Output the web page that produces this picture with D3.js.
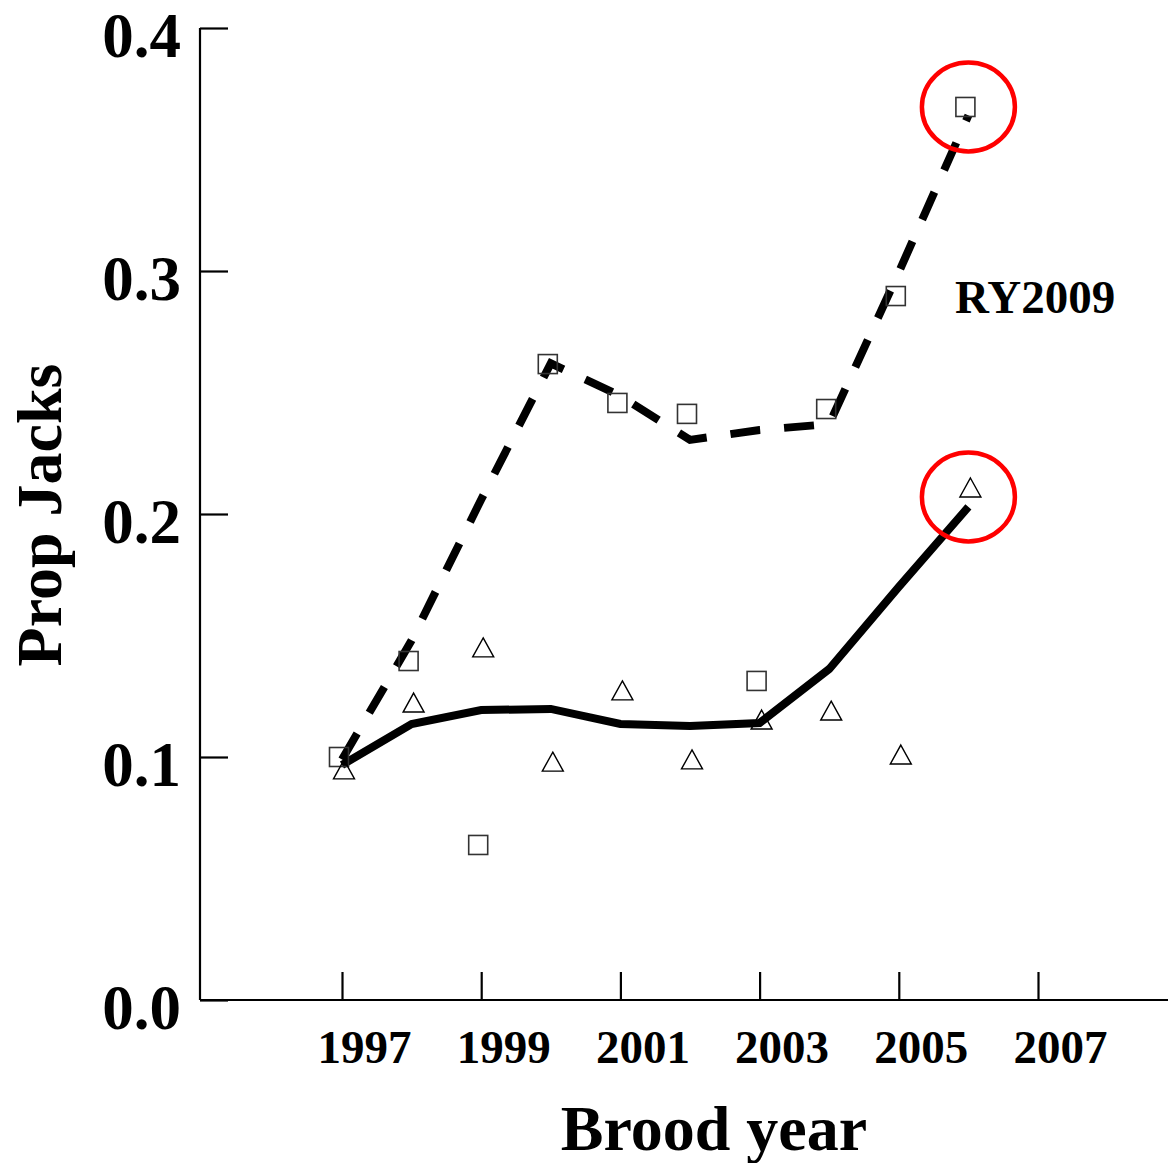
<!DOCTYPE html>
<html>
<head>
<meta charset="utf-8">
<script src="https://cdn.jsdelivr.net/npm/d3@7"></script>
<style>
  html, body { margin: 0; padding: 0; background: #fff; }
  svg { display: block; }
  text { font-family: "Liberation Serif", "Times New Roman", serif; font-weight: bold; fill: #000; }
</style>
</head>
<body>
<svg id="chart" width="1168" height="1163"></svg>
<script>
// Brood years and observed proportions of jacks
const years = [1997, 1998, 1999, 2000, 2001, 2002, 2003, 2004, 2005, 2006];
const squareObs = [0.100, 0.1395, 0.0638, 0.2617, 0.2457, 0.2412, 0.1313, 0.2432, 0.2897, 0.3675];
const triangleObs = [0.0947, 0.1222, 0.1449, 0.0979, 0.1272, 0.0988, 0.1152, 0.1189, 0.1008, 0.2107];
// Fitted trends
const dashedFit = [0.099, 0.148, 0.206, 0.262, 0.2486, 0.2305, 0.2346, 0.237, 0.2995, 0.364];
const solidFit = [0.0967, 0.1136, 0.1193, 0.1198, 0.1136, 0.1128, 0.114, 0.1362, 0.170, 0.2029];
// Axis ticks
const xTicks = [1997, 1999, 2001, 2003, 2005, 2007];
const yTicks = [0.0, 0.1, 0.2, 0.3, 0.4];
// Highlighted points (RY2009)
const highlightYears = [2006, 2006];
const highlightValues = [0.3675, 0.207];

const svg = d3.select("#chart");

const x = d3.scaleLinear().domain([1997, 2007]).range([342, 1038]);
const y = d3.scaleLinear().domain([0, 0.4]).range([1000, 28]);

// Axes
const xAxis = d3.axisBottom(x).tickValues(xTicks).tickFormat(d3.format("d"))
  .tickSize(-28).tickSizeOuter(0).tickPadding(0);
const gx = svg.append("g").attr("transform", "translate(0,1000)").call(xAxis);
gx.select(".domain").attr("d", "M200,0H1168").attr("stroke", "#000").attr("stroke-width", 2.2);
gx.selectAll(".tick line").attr("stroke", "#000").attr("stroke-width", 2.2);
gx.selectAll(".tick text")
  .attr("x", 22).attr("y", 63).attr("dy", null)
  .style("font-family", "'Liberation Serif', serif").style("font-weight", "bold")
  .style("font-size", "47px").attr("fill", "#000");

const yAxis = d3.axisLeft(y).tickValues(yTicks).tickFormat(d3.format(".1f"))
  .tickSize(-28).tickSizeOuter(0).tickPadding(0);
const gy = svg.append("g").attr("transform", "translate(200,0)").call(yAxis);
gy.select(".domain").attr("d", "M0,1000V28").attr("stroke", "#000").attr("stroke-width", 2.2);
gy.selectAll(".tick line").attr("stroke", "#000").attr("stroke-width", 2.2);
gy.selectAll(".tick text")
  .attr("x", -19).attr("dy", "0.45em")
  .style("font-family", "'Liberation Serif', serif").style("font-weight", "bold")
  .style("font-size", "63px").attr("fill", "#000");

// Axis titles
svg.append("text").attr("x", 714).attr("y", 1150).attr("text-anchor", "middle")
  .style("font-size", "64px").text("Brood year");
svg.append("text").attr("transform", "translate(61,515) rotate(-90)").attr("text-anchor", "middle")
  .style("font-size", "64px").text("Prop Jacks");

// Trend lines
const line = d3.line().x((d, i) => x(years[i])).y(d => y(d));
svg.append("path").datum(dashedFit).attr("d", line)
  .attr("fill", "none").attr("stroke", "#000").attr("stroke-width", 8)
  .attr("stroke-dasharray", "30,24");
svg.append("path").datum(solidFit).attr("d", line)
  .attr("fill", "none").attr("stroke", "#000").attr("stroke-width", 8);

// Square observations
svg.append("g").selectAll("rect").data(squareObs).join("rect")
  .attr("x", (d, i) => x(years[i]) - 3 - 9.5)
  .attr("y", d => y(d) - 9.5)
  .attr("width", 19).attr("height", 19)
  .attr("fill", "none").attr("stroke", "#333").attr("stroke-width", 1.6);

// Triangle observations
svg.append("g").selectAll("path").data(triangleObs).join("path")
  .attr("d", "M0,-10L10.5,9L-10.5,9Z")
  .attr("transform", (d, i) => `translate(${x(years[i]) + 2},${y(d)})`)
  .attr("fill", "none").attr("stroke", "#000").attr("stroke-width", 1.4);

// Highlight circles
svg.append("g").selectAll("ellipse").data(highlightValues).join("ellipse")
  .attr("cx", (d, i) => x(highlightYears[i]))
  .attr("cy", d => y(d))
  .attr("rx", 46.5).attr("ry", 44.5)
  .attr("fill", "none").attr("stroke", "#f00").attr("stroke-width", 4.5);

// Label
svg.append("text").attr("x", 955).attr("y", 313).style("font-size", "47px").text("RY2009");
</script>
</body>
</html>
